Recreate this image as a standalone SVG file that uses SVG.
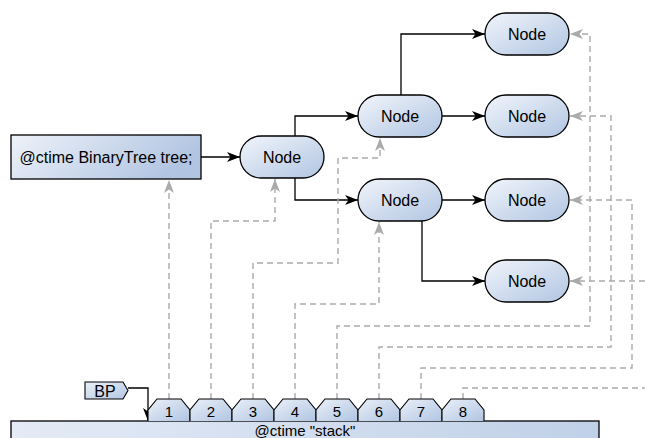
<svg xmlns="http://www.w3.org/2000/svg" width="645" height="438" viewBox="0 0 645 438">
<defs>
<linearGradient id="gNode" x1="0" y1="0" x2="1" y2="1">
<stop offset="0" stop-color="#f1f5fb"/><stop offset="1" stop-color="#b1c5e2"/>
</linearGradient>
<linearGradient id="gBox" x1="0" y1="0" x2="1" y2="0.3">
<stop offset="0" stop-color="#eef2f9"/><stop offset="1" stop-color="#b1c5e2"/>
</linearGradient>
<linearGradient id="gBar" x1="0" y1="0" x2="1" y2="0">
<stop offset="0" stop-color="#e4ebf6"/><stop offset="1" stop-color="#c0d0e8"/>
</linearGradient>
<linearGradient id="gCell" x1="0" y1="0" x2="1" y2="1">
<stop offset="0" stop-color="#eaf0f8"/><stop offset="1" stop-color="#b1c5e2"/>
</linearGradient>
<marker id="aBlack" markerUnits="userSpaceOnUse" markerWidth="14" markerHeight="12" refX="13" refY="5" orient="auto">
<path d="M0,0 L13,5 L0,10 L3.5,5 Z" fill="#000"/>
</marker>
<marker id="aGray" markerUnits="userSpaceOnUse" markerWidth="14" markerHeight="12" refX="13" refY="5" orient="auto">
<path d="M0,0 L13,5 L0,10 L3.5,5 Z" fill="#aaa"/>
</marker>
</defs>
<style>
.node{fill:url(#gNode);stroke:#000;stroke-width:1.3}
.box{fill:url(#gBox);stroke:#000;stroke-width:1.3}
.cell{fill:url(#gCell);stroke:#000;stroke-width:1.1}
.t{font-family:"Liberation Sans",Arial,sans-serif;font-size:16px;fill:#000;text-anchor:middle;dominant-baseline:central}
.ts{font-family:"Liberation Sans",Arial,sans-serif;font-size:15px;fill:#000;text-anchor:middle;dominant-baseline:central}
.solid{fill:none;stroke:#000;stroke-width:1.3;marker-end:url(#aBlack)}
.dash{fill:none;stroke:#aaa;stroke-width:1.4;stroke-dasharray:6,4;marker-end:url(#aGray)}
</style>
<g id="connectors">
<path class="solid" d="M201,157 L240,157"/>
<path class="solid" d="M295,136 L295,116 L358,116"/>
<path class="solid" d="M295,178 L295,200 L358,200"/>
<path class="solid" d="M401,95 L401,34 L485,34"/>
<path class="solid" d="M442,116 L485,116"/>
<path class="solid" d="M442,200 L485,200"/>
<path class="solid" d="M422,221 L422,281 L485,281"/>
<path class="solid" d="M128,388 L148,388 L148,421"/>
<path class="dash" d="M169,399 L169,180"/>
<path class="dash" d="M211,399 L211,221 L275,221 L275,179"/>
<path class="dash" d="M253,399 L253,263 L338,263 L338,158 L380,158 L380,138"/>
<path class="dash" d="M295,399 L295,304 L379,304 L379,222"/>
<path class="dash" d="M337,399 L337,326 L590,326 L590,34 L570,34"/>
<path class="dash" d="M379,399 L379,347 L611,347 L611,116 L570,116"/>
<path class="dash" d="M421,399 L421,368 L632,368 L632,200 L570,200"/>
<path class="dash" d="M463,399 L463,388 L660,388 L660,281 L570,281"/>
</g>
<g id="root">
<rect class="box" x="11" y="135" width="190" height="44"/>
<text class="t" x="106" y="157">@ctime BinaryTree tree;</text>
</g>
<g id="node1"><rect class="node" x="240" y="136" width="84" height="42" rx="21"/><text class="t" x="282" y="157">Node</text></g>
<g id="node2"><rect class="node" x="358" y="95" width="84" height="42" rx="21"/><text class="t" x="400" y="116">Node</text></g>
<g id="node3"><rect class="node" x="358" y="179" width="84" height="42" rx="21"/><text class="t" x="400" y="200">Node</text></g>
<g id="node4"><rect class="node" x="485" y="13" width="84" height="42" rx="21"/><text class="t" x="527" y="34">Node</text></g>
<g id="node5"><rect class="node" x="485" y="95" width="84" height="42" rx="21"/><text class="t" x="527" y="116">Node</text></g>
<g id="node6"><rect class="node" x="485" y="179" width="84" height="42" rx="21"/><text class="t" x="527" y="200">Node</text></g>
<g id="node7"><rect class="node" x="485" y="260" width="84" height="42" rx="21"/><text class="t" x="527" y="281">Node</text></g>
<g id="bp">
<path class="cell" d="M85,382 L123,382 L128,390.5 L123,399 L85,399 Z"/>
<text class="ts" x="105" y="391" style="font-size:16px">BP</text>
</g>
<g id="stack">
<rect x="11" y="421" width="588" height="24" fill="url(#gBar)" stroke="#000" stroke-width="1.3"/>
<text class="ts" x="305" y="430">@ctime "stack"</text>
</g>
<g id="cells">
<path class="cell" d="M148,421 L148,410 L157,399 L181,399 L190,410 L190,421"/><text class="ts" x="169" y="411">1</text>
<path class="cell" d="M190,421 L190,410 L199,399 L223,399 L232,410 L232,421"/><text class="ts" x="211" y="411">2</text>
<path class="cell" d="M232,421 L232,410 L241,399 L265,399 L274,410 L274,421"/><text class="ts" x="253" y="411">3</text>
<path class="cell" d="M274,421 L274,410 L283,399 L307,399 L316,410 L316,421"/><text class="ts" x="295" y="411">4</text>
<path class="cell" d="M316,421 L316,410 L325,399 L349,399 L358,410 L358,421"/><text class="ts" x="337" y="411">5</text>
<path class="cell" d="M358,421 L358,410 L367,399 L391,399 L400,410 L400,421"/><text class="ts" x="379" y="411">6</text>
<path class="cell" d="M400,421 L400,410 L409,399 L433,399 L442,410 L442,421"/><text class="ts" x="421" y="411">7</text>
<path class="cell" d="M442,421 L442,410 L451,399 L475,399 L484,410 L484,421"/><text class="ts" x="463" y="411">8</text>
</g>
</svg>
